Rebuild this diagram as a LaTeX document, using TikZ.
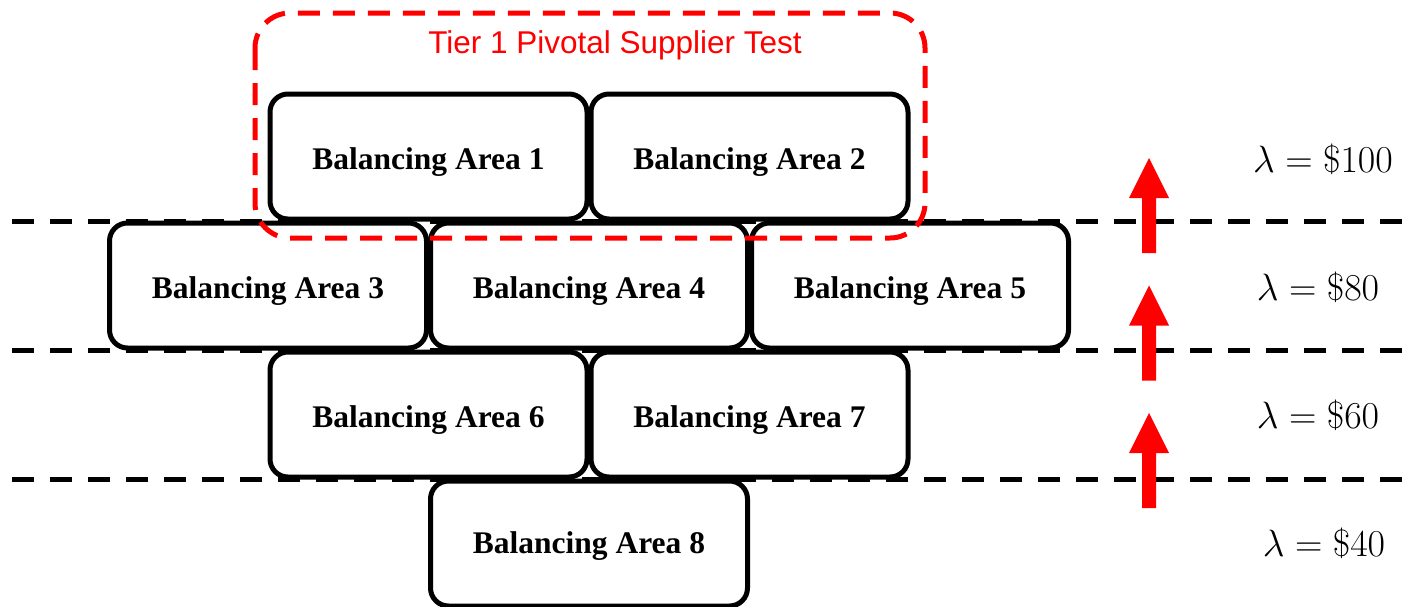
\RequirePackage{fix-cm}
\documentclass[tikz,border=0pt]{standalone}
\usepackage[no-math]{fontspec}
\setmainfont{Liberation Serif}
\newfontfamily\redsans{Liberation Sans}
\begin{document}
\begin{tikzpicture}[x=1pt,y=-1pt,
  area/.style={draw, line width=5pt, rounded corners=18pt, fill=white,
    minimum width=317pt, minimum height=125pt, inner sep=0pt,
    font=\fontsize{31.5}{36}\selectfont\bfseries, text height=25pt, text depth=0pt},
  sepline/.style={draw, line width=5pt, dash pattern=on 22pt off 16pt},
  tierbox/.style={draw=red, line width=5pt, rounded corners=35pt, dash pattern=on 22pt off 13pt},
  lam/.style={font=\fontsize{38}{42}\selectfont, anchor=base, inner sep=0pt},
  uparrow/.style={fill=red}
]
\useasboundingbox (0,0) rectangle (1405,606);
% separators
\foreach \yy in {221,350,479}{
  \draw[sepline] (12,\yy) -- (1405,\yy);
}
% boxes
\node[area] (b1) at (428.5,156.5) {Balancing Area 1};
\node[area] (b2) at (749.5,156.5) {Balancing Area 2};
\node[area] (b3) at (268,285.5) {Balancing Area 3};
\node[area] (b4) at (589,285.5) {Balancing Area 4};
\node[area] (b5) at (910,285.5) {Balancing Area 5};
\node[area] (b6) at (428.5,414.5) {Balancing Area 6};
\node[area] (b7) at (749.5,414.5) {Balancing Area 7};
\node[area, text height=20pt] (b8) at (589,543.5) {Balancing Area 8};
% tier box
\draw[tierbox] (255,13) rectangle (925,238);
\node[text=red, font=\redsans\fontsize{31.5}{35}\selectfont, anchor=base, inner sep=0pt] (tier) at (615,53) {Tier 1 Pivotal Supplier Test};
% arrows
\foreach \dy in {0,127.5,255}{
  \fill[uparrow] (1142,253+\dy) -- (1142,198+\dy) -- (1129,198+\dy) -- (1149,158+\dy)
     -- (1169,198+\dy) -- (1156,198+\dy) -- (1156,253+\dy) -- cycle;
}
% prices
\node[lam] (l1) at (1323,172) {$\lambda = \$100$};
\node[lam] (l2) at (1318,300) {$\lambda = \$80$};
\node[lam] (l3) at (1318,428) {$\lambda = \$60$};
\node[lam] (l4) at (1324,556) {$\lambda = \$40$};
\end{tikzpicture}
\end{document}
